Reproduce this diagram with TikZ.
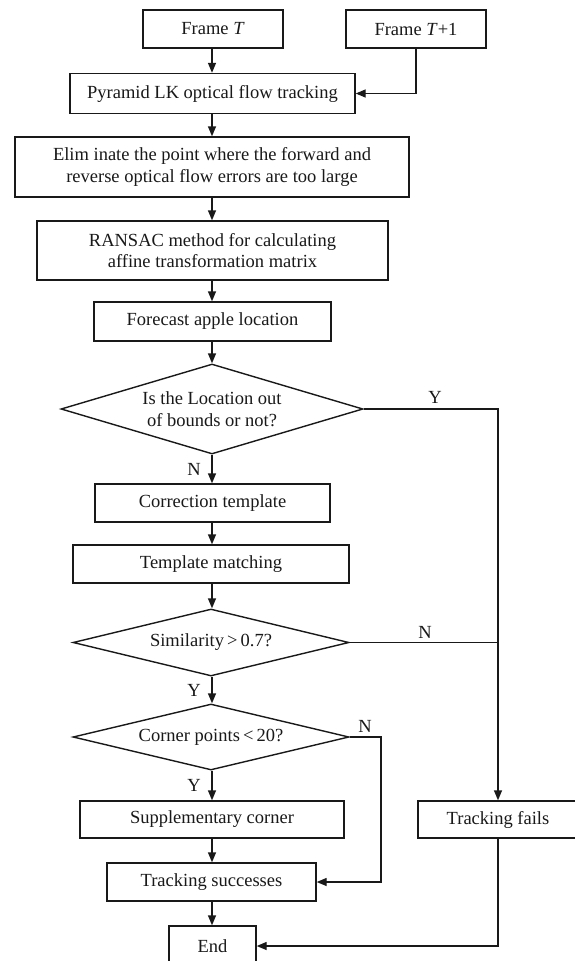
\documentclass[tikz,border=0pt]{standalone}
\usepackage{fontspec}
\setmainfont{Liberation Serif}
\usetikzlibrary{arrows.meta,shapes.geometric}
\definecolor{ink}{RGB}{25,25,25}
\tikzset{
  box/.style={draw=ink, line width=1.4pt, rectangle, inner sep=0pt, align=center, text=ink},
  dec/.style={draw=ink, line width=1.4pt, diamond, inner sep=0pt},
  arr/.style={draw=ink, line width=1.4pt, -{Triangle[length=10pt,width=8pt]}},
  ln/.style={draw=ink, line width=1.4pt},
  lab/.style={text=ink, inner sep=0pt}
}
\begin{document}
\begin{tikzpicture}[x=1pt,y=-1pt,font=\fontsize{18.5}{21.5}\selectfont]
\useasboundingbox (0,0) rectangle (575,961);
\fill[white] (0,0) rectangle (575,961);
\clip (0,0) rectangle (575,961);

\node[box, minimum width=140pt, minimum height=38pt] (fT) at (213,29) {Frame \textit{T}};
\node[box, minimum width=140pt, minimum height=38pt] (fT1) at (416,29) {Frame \textit{T}+1};
\node[box, minimum width=285pt, minimum height=40pt] (pyr) at (212.5,93.5) {Pyramid LK optical flow tracking};
\node[box, minimum width=394pt, minimum height=60pt] (elim) at (212,167) {Elim inate the point where the forward and\\reverse optical flow errors are too large};
\node[box, minimum width=351pt, minimum height=59pt] (ran) at (212.5,250.5) {RANSAC method for calculating\\affine transformation matrix};
\node[box, minimum width=237pt, minimum height=39pt] (fore) at (212.5,321.5) {Forecast apple location};
\node[dec, minimum width=302pt, minimum height=90pt, label={[lab,align=center]center:Is the Location out\\of bounds or not?}] (d1) at (212,409) {};
\node[box, minimum width=235pt, minimum height=38pt] (corr) at (212.5,503) {Correction template};
\node[box, minimum width=276pt, minimum height=38pt] (tm) at (211,564) {Template matching};
\node[dec, minimum width=276pt, minimum height=67pt, label={[lab]center:Similarity\,>\,0.7?}] (d2) at (211,642.5) {};
\node[dec, minimum width=276pt, minimum height=66pt, label={[lab]center:Corner points\,<\,20?}] (d3) at (211,737) {};
\node[box, minimum width=264pt, minimum height=37pt] (sup) at (212,819.5) {Supplementary corner};
\node[box, minimum width=160pt, minimum height=37pt] (fail) at (498,819.5) {Tracking fails};
\node[box, minimum width=209pt, minimum height=38pt] (suc) at (211.5,882) {Tracking successes};
\node[box, minimum width=87pt, minimum height=40pt] (end) at (212.5,946) {End};

\coordinate (c1) at (498,409);
\coordinate (c2) at (381,737);
\coordinate (c3) at (498,946);

\draw[arr] (fT.south -| 212,0) -- (pyr.north -| 212,0);
\draw[arr] (fT1.south) |- (pyr.east);
\draw[arr] (pyr.south -| 212,0) -- (elim.north -| 212,0);
\draw[arr] (elim.south -| 212,0) -- (ran.north -| 212,0);
\draw[arr] (ran.south -| 212,0) -- (fore.north -| 212,0);
\draw[arr] (fore.south -| 212,0) -- (d1.north);
\draw[arr] (d1.south) -- (corr.north -| d1.south);
\draw[arr] (corr.south -| 212,0) -- (tm.north -| 212,0);
\draw[arr] (tm.south -| 212,0) -- (d2.north -| 212,0);
\draw[arr] (d2.south -| 212,0) -- (d3.north -| 212,0);
\draw[arr] (d3.south -| 212,0) -- (sup.north -| 212,0);
\draw[arr] (sup.south -| 212,0) -- (suc.north -| 212,0);
\draw[arr] (suc.south -| 212,0) -- (end.north -| 212,0);

\draw[arr] (d1.east) -- (c1) -- (fail.north);
\draw[ln] (d2.east) -- (d2.east -| c1);
\draw[arr] (d3.east) -- (c2) |- (suc.east);
\draw[arr] (fail.south) -- (c3) -- (end.east);

\node[lab] (y1) at (435,397) {Y};
\node[lab] (n1) at (194,469) {N};
\node[lab] (n2) at (425,632) {N};
\node[lab] (y2) at (194,690) {Y};
\node[lab] (n3) at (365,726) {N};
\node[lab] (y3) at (194,785) {Y};
\end{tikzpicture}
\end{document}
